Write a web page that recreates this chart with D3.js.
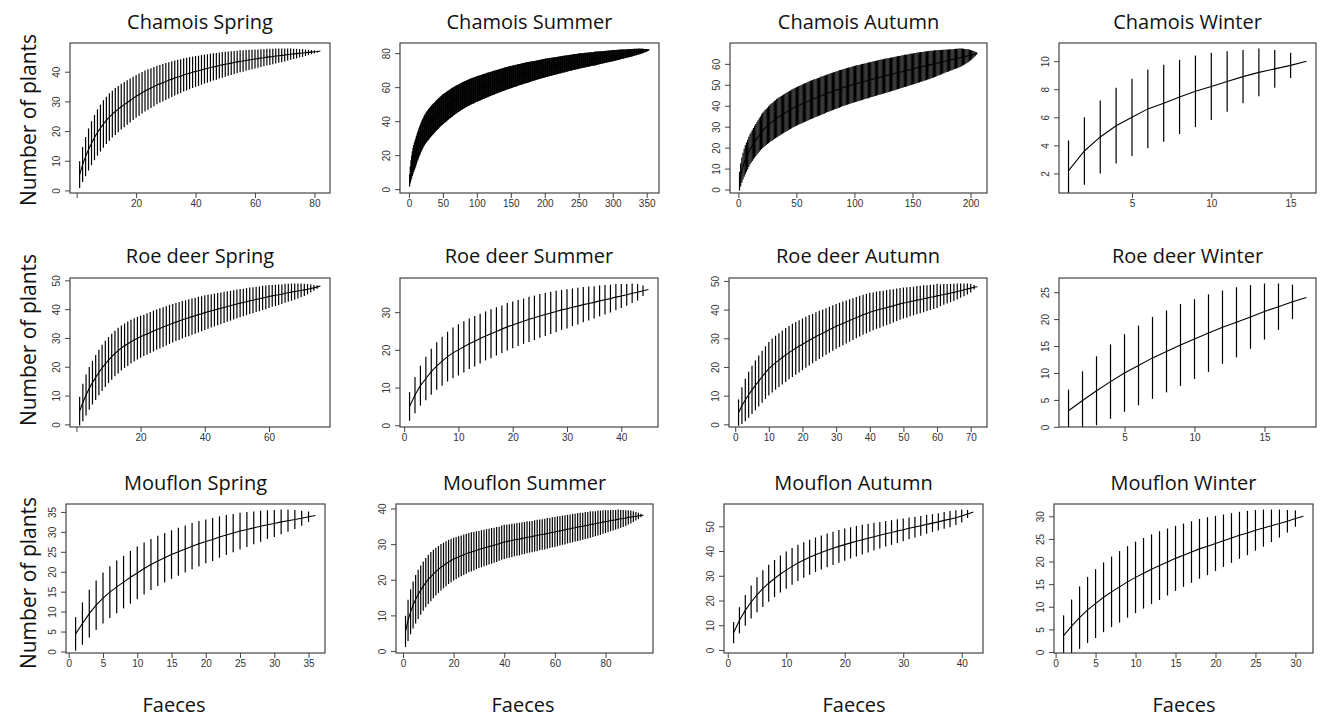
<!DOCTYPE html>
<html><head><meta charset="utf-8">
<script src="https://cdn.jsdelivr.net/npm/d3@7"></script>
<style>body{margin:0;background:#fff;} svg{display:block;}</style>
</head><body>
<svg id="chart" width="1327" height="717"></svg>
<script>
// ---------------- DATA ----------------
const panelTitles = ["Chamois Spring","Chamois Summer","Chamois Autumn","Chamois Winter",
  "Roe deer Spring","Roe deer Summer","Roe deer Autumn","Roe deer Winter",
  "Mouflon Spring","Mouflon Summer","Mouflon Autumn","Mouflon Winter"];
const yAxisTitle = "Number of plants";
const xAxisTitle = "Faeces";

const xTickValues = [[0,20,40,60,80],[0,50,100,150,200,250,300,350],[0,50,100,150,200],[5,10,15],
  [0,20,40,60],[0,10,20,30,40],[0,10,20,30,40,50,60,70],[5,10,15],
  [0,5,10,15,20,25,30,35],[0,20,40,60,80],[0,10,20,30,40],[0,5,10,15,20,25,30]];
const xTickLabels = [["","20","40","60","80"],["0","50","100","150","200","250","300","350"],["0","50","100","150","200"],["5","10","15"],
  ["","20","40","60"],["0","10","20","30","40"],["0","10","20","30","40","50","60","70"],["5","10","15"],
  ["0","5","10","15","20","25","30","35"],["0","20","40","60","80"],["0","10","20","30","40"],["0","5","10","15","20","25","30"]];
const yTickValues = [[0,10,20,30,40],[0,20,40,60,80],[0,10,20,30,40,50,60],[2,4,6,8,10],
  [0,10,20,30,40,50],[0,10,20,30],[0,10,20,30,40,50],[0,5,10,15,20,25],
  [0,5,10,15,20,25,30,35],[0,10,20,30,40],[0,10,20,30,40,50],[0,5,10,15,20,25,30]];

// mean number of plants per number of faeces (x = 1..N) and CI half-width
const meanChamoisSpring = [5.3,8.7,11.4,13.8,15.9,17.8,19.5,21.0,22.4,23.6,
 24.7,25.7,26.6,27.4,28.2,28.9,29.6,30.3,31.0,31.7,
 32.3,32.9,33.5,34.0,34.5,35.0,35.5,35.9,36.3,36.7,
 37.1,37.5,37.9,38.2,38.5,38.9,39.2,39.5,39.8,40.1,
 40.3,40.6,40.9,41.1,41.4,41.6,41.8,42.1,42.3,42.5,
 42.7,42.9,43.1,43.3,43.5,43.6,43.8,44.0,44.1,44.3,
 44.4,44.6,44.7,44.9,45.0,45.1,45.3,45.4,45.5,45.6,
 45.8,45.9,46.0,46.1,46.2,46.3,46.4,46.5,46.6,46.7,
 46.8,47.0];
const ciChamoisSpring = [4.5,5.9,6.6,7.1,7.4,7.6,7.8,7.9,8.0,8.0,
 8.0,7.9,7.9,7.8,7.7,7.6,7.5,7.4,7.3,7.2,
 7.1,7.0,6.9,6.8,6.7,6.6,6.5,6.4,6.3,6.2,
 6.1,6.0,5.9,5.8,5.7,5.6,5.5,5.4,5.3,5.2,
 5.1,5.0,4.9,4.8,4.7,4.6,4.5,4.4,4.3,4.2,
 4.1,4.0,3.9,3.8,3.7,3.6,3.5,3.4,3.3,3.2,
 3.1,3.0,2.9,2.8,2.7,2.6,2.5,2.4,2.3,2.2,
 2.0,1.9,1.7,1.6,1.4,1.3,1.1,0.9,0.7,0.5,
 0.3,0.0];

const meanChamoisSummer = [5.0,8.5,11.0,13.0,15.0,16.6,18.0,19.3,20.4,21.5,
 22.9,24.2,25.4,26.5,27.6,28.6,29.6,30.6,31.5,32.4,
 33.2,34.0,34.7,35.4,36.0,36.6,37.1,37.6,38.1,38.6,
 39.1,39.6,40.1,40.6,41.0,41.4,41.8,42.2,42.7,43.1,
 43.5,43.9,44.3,44.7,45.1,45.5,45.9,46.2,46.6,47.0,
 47.3,47.6,47.9,48.2,48.5,48.8,49.1,49.4,49.7,50.0,
 50.3,50.6,50.9,51.2,51.5,51.7,52.0,52.3,52.6,52.8,
 53.0,53.3,53.5,53.8,54.0,54.2,54.5,54.7,55.0,55.2,
 55.4,55.6,55.8,56.0,56.2,56.4,56.6,56.8,57.0,57.2,
 57.4,57.5,57.7,57.9,58.0,58.2,58.4,58.5,58.7,58.9,
 59.0,59.2,59.3,59.5,59.6,59.8,60.0,60.1,60.3,60.4,
 60.6,60.7,60.9,61.0,61.2,61.3,61.5,61.6,61.7,61.9,
 62.0,62.2,62.3,62.5,62.6,62.7,62.9,63.0,63.2,63.3,
 63.4,63.6,63.7,63.8,64.0,64.1,64.3,64.4,64.5,64.7,
 64.8,64.9,65.1,65.2,65.3,65.4,65.5,65.7,65.8,65.9,
 66.0,66.1,66.3,66.4,66.5,66.6,66.7,66.8,66.9,67.1,
 67.2,67.3,67.4,67.5,67.6,67.7,67.8,68.0,68.1,68.2,
 68.3,68.4,68.5,68.6,68.7,68.8,68.9,69.0,69.1,69.2,
 69.3,69.4,69.5,69.6,69.7,69.8,69.9,70.0,70.1,70.2,
 70.3,70.4,70.5,70.6,70.7,70.8,70.9,71.0,71.1,71.2,
 71.3,71.4,71.5,71.5,71.6,71.7,71.8,71.9,72.0,72.0,
 72.1,72.2,72.3,72.4,72.5,72.5,72.6,72.7,72.8,72.9,
 73.0,73.0,73.1,73.2,73.3,73.4,73.5,73.5,73.6,73.7,
 73.8,73.9,73.9,74.0,74.1,74.2,74.3,74.3,74.4,74.5,
 74.6,74.7,74.7,74.8,74.9,75.0,75.0,75.1,75.2,75.3,
 75.4,75.4,75.5,75.6,75.6,75.7,75.7,75.8,75.9,75.9,
 76.0,76.1,76.1,76.2,76.3,76.3,76.4,76.5,76.5,76.6,
 76.6,76.7,76.8,76.8,76.9,77.0,77.0,77.1,77.2,77.2,
 77.3,77.3,77.4,77.5,77.5,77.6,77.7,77.7,77.8,77.9,
 77.9,78.0,78.0,78.1,78.2,78.2,78.3,78.4,78.4,78.5,
 78.6,78.6,78.7,78.7,78.8,78.9,78.9,79.0,79.1,79.1,
 79.2,79.3,79.3,79.4,79.4,79.5,79.6,79.6,79.7,79.8,
 79.8,79.9,80.0,80.0,80.1,80.1,80.2,80.3,80.3,80.4,
 80.5,80.5,80.6,80.7,80.7,80.8,80.8,80.9,81.0,81.0,
 81.1,81.2,81.2,81.3,81.4,81.4,81.5,81.5,81.6,81.7,
 81.7,81.8,81.9,82.0];
const ciChamoisSummer = [3.5,5.0,6.0,6.8,7.3,7.7,7.9,8.1,8.2,8.3,
 8.3,8.4,8.4,8.5,8.5,8.6,8.6,8.6,8.7,8.7,
 8.7,8.8,8.8,8.8,8.9,8.9,8.9,9.0,9.0,9.0,
 9.0,9.0,9.0,9.0,9.0,9.0,8.9,8.9,8.9,8.9,
 8.9,8.9,8.9,8.9,8.8,8.8,8.8,8.8,8.8,8.8,
 8.8,8.7,8.7,8.7,8.7,8.6,8.6,8.6,8.5,8.5,
 8.5,8.4,8.4,8.4,8.3,8.3,8.3,8.2,8.2,8.2,
 8.1,8.1,8.1,8.1,8.0,8.0,8.0,8.0,7.9,7.9,
 7.9,7.9,7.8,7.8,7.8,7.8,7.7,7.7,7.7,7.7,
 7.7,7.6,7.6,7.6,7.6,7.6,7.5,7.5,7.5,7.5,
 7.5,7.5,7.4,7.4,7.4,7.4,7.3,7.3,7.3,7.3,
 7.3,7.2,7.2,7.2,7.2,7.2,7.1,7.1,7.1,7.1,
 7.1,7.0,7.0,7.0,7.0,7.0,6.9,6.9,6.9,6.9,
 6.9,6.8,6.8,6.8,6.8,6.8,6.7,6.7,6.7,6.7,
 6.7,6.7,6.7,6.6,6.6,6.6,6.6,6.6,6.6,6.6,
 6.5,6.5,6.5,6.5,6.4,6.4,6.4,6.4,6.3,6.3,
 6.3,6.3,6.2,6.2,6.2,6.2,6.2,6.1,6.1,6.1,
 6.1,6.1,6.1,6.1,6.1,6.0,6.0,6.0,5.9,5.9,
 5.9,5.8,5.8,5.8,5.7,5.7,5.7,5.7,5.6,5.6,
 5.6,5.6,5.6,5.5,5.5,5.5,5.5,5.5,5.5,5.5,
 5.5,5.4,5.4,5.4,5.4,5.3,5.3,5.3,5.3,5.3,
 5.2,5.2,5.2,5.2,5.1,5.1,5.1,5.1,5.1,5.0,
 5.0,5.0,5.0,5.0,5.0,4.9,4.9,4.9,4.9,4.9,
 4.8,4.8,4.8,4.8,4.7,4.7,4.7,4.7,4.7,4.6,
 4.6,4.6,4.6,4.6,4.6,4.5,4.5,4.5,4.5,4.5,
 4.5,4.4,4.4,4.4,4.4,4.3,4.3,4.3,4.3,4.3,
 4.2,4.2,4.2,4.2,4.1,4.1,4.1,4.1,4.1,4.0,
 4.0,4.0,4.0,4.0,4.0,3.9,3.9,3.9,3.8,3.8,
 3.8,3.7,3.7,3.7,3.6,3.6,3.6,3.5,3.5,3.5,
 3.5,3.4,3.4,3.4,3.4,3.4,3.3,3.3,3.3,3.3,
 3.3,3.2,3.2,3.1,3.1,3.1,3.0,3.0,2.9,2.9,
 2.9,2.8,2.8,2.7,2.7,2.7,2.6,2.6,2.5,2.5,
 2.5,2.4,2.4,2.4,2.4,2.3,2.3,2.2,2.2,2.1,
 2.1,2.0,2.0,1.9,1.9,1.8,1.8,1.7,1.7,1.6,
 1.5,1.4,1.4,1.3,1.2,1.1,1.0,1.0,0.9,0.8,
 0.6,0.4,0.2,0.0];

const meanChamoisAutumn = [4.0,7.0,9.3,11.2,12.8,14.2,15.5,16.7,18.0,19.2,
 20.1,21.0,21.9,22.8,23.6,24.4,25.2,26.0,26.8,27.6,
 28.2,28.8,29.4,29.9,30.4,30.9,31.4,31.9,32.3,32.7,
 33.2,33.6,34.0,34.4,34.8,35.1,35.5,35.8,36.2,36.5,
 36.8,37.2,37.5,37.8,38.1,38.5,38.8,39.1,39.4,39.6,
 39.9,40.2,40.4,40.7,40.9,41.2,41.4,41.7,41.9,42.2,
 42.4,42.7,42.9,43.1,43.4,43.6,43.8,44.0,44.2,44.4,
 44.7,44.9,45.1,45.3,45.5,45.8,46.0,46.2,46.4,46.6,
 46.8,47.0,47.2,47.4,47.6,47.8,48.0,48.2,48.4,48.6,
 48.8,49.0,49.1,49.3,49.5,49.6,49.8,50.0,50.1,50.3,
 50.5,50.6,50.8,50.9,51.1,51.2,51.4,51.5,51.7,51.8,
 52.0,52.1,52.3,52.4,52.6,52.7,52.9,53.0,53.2,53.3,
 53.5,53.6,53.8,53.9,54.0,54.2,54.3,54.5,54.6,54.7,
 54.9,55.0,55.2,55.3,55.4,55.6,55.7,55.9,56.0,56.1,
 56.3,56.4,56.6,56.7,56.8,57.0,57.1,57.3,57.4,57.5,
 57.7,57.8,57.9,58.1,58.2,58.3,58.5,58.6,58.7,58.9,
 59.0,59.1,59.3,59.4,59.5,59.7,59.8,59.9,60.1,60.2,
 60.3,60.5,60.6,60.7,60.8,61.0,61.1,61.2,61.4,61.5,
 61.6,61.8,61.9,62.0,62.1,62.3,62.4,62.5,62.6,62.8,
 62.9,63.0,63.2,63.3,63.4,63.6,63.7,63.9,64.0,64.1,
 64.3,64.4,64.6,64.7,64.9,65.0];
const ciChamoisAutumn = [4.5,5.5,6.0,6.4,6.7,6.9,7.0,7.1,7.2,7.2,
 7.3,7.4,7.5,7.6,7.7,7.8,7.9,8.0,8.1,8.3,
 8.4,8.5,8.6,8.6,8.7,8.8,8.8,8.9,9.0,9.0,
 9.1,9.1,9.2,9.2,9.2,9.2,9.2,9.2,9.2,9.2,
 9.2,9.2,9.2,9.2,9.2,9.2,9.2,9.2,9.2,9.2,
 9.2,9.2,9.2,9.2,9.2,9.2,9.2,9.2,9.2,9.2,
 9.2,9.2,9.2,9.2,9.2,9.1,9.1,9.1,9.1,9.1,
 9.1,9.1,9.1,9.1,9.0,9.0,9.0,9.0,9.0,9.0,
 9.0,9.0,8.9,8.9,8.9,8.9,8.9,8.9,8.8,8.8,
 8.8,8.8,8.8,8.8,8.8,8.7,8.7,8.7,8.7,8.7,
 8.7,8.7,8.6,8.6,8.6,8.6,8.6,8.5,8.5,8.5,
 8.5,8.5,8.5,8.4,8.4,8.4,8.4,8.4,8.4,8.3,
 8.3,8.3,8.3,8.3,8.2,8.2,8.2,8.2,8.1,8.1,
 8.1,8.0,8.0,8.0,8.0,7.9,7.9,7.9,7.8,7.8,
 7.8,7.7,7.7,7.7,7.6,7.6,7.5,7.5,7.5,7.4,
 7.4,7.4,7.3,7.3,7.2,7.2,7.1,7.1,7.0,7.0,
 6.9,6.9,6.8,6.7,6.7,6.6,6.5,6.5,6.4,6.3,
 6.2,6.1,6.0,5.9,5.8,5.7,5.6,5.5,5.4,5.4,
 5.3,5.2,5.1,5.0,4.9,4.8,4.8,4.7,4.6,4.5,
 4.4,4.3,4.1,3.9,3.7,3.5,3.3,3.1,2.8,2.5,
 2.2,1.9,1.5,1.1,0.6,0.0];

const meanChamoisWinter = [2.2,3.6,4.6,5.4,6.0,6.6,7.0,7.45,7.85,8.2,8.55,8.9,9.2,9.45,9.7,10.0];
const ciChamoisWinter = [2.15,2.4,2.6,2.7,2.75,2.8,2.75,2.65,2.55,2.4,2.15,1.9,1.7,1.35,0.9,0.0];

const meanRoeSpring = [4.6,7.6,10.2,12.5,14.5,16.3,18.0,19.6,21.0,22.3,
 23.5,24.6,25.6,26.5,27.3,28.0,28.7,29.3,29.9,30.4,
 30.9,31.4,31.9,32.4,32.9,33.3,33.8,34.2,34.7,35.1,
 35.5,35.9,36.3,36.7,37.0,37.4,37.7,38.1,38.4,38.8,
 39.1,39.4,39.7,40.0,40.3,40.6,40.9,41.2,41.5,41.8,
 42.1,42.3,42.6,42.9,43.1,43.4,43.6,43.9,44.1,44.4,
 44.6,44.8,45.0,45.2,45.5,45.7,45.9,46.1,46.3,46.5,
 46.7,46.9,47.2,47.4,47.7,48.0];
const ciRoeSpring = [5.0,6.5,7.1,7.4,7.6,7.8,7.9,8.0,8.0,8.0,
 8.0,7.9,7.9,7.8,7.7,7.7,7.6,7.5,7.4,7.3,
 7.2,7.2,7.1,7.1,7.0,7.0,6.9,6.8,6.8,6.7,
 6.6,6.6,6.5,6.4,6.4,6.3,6.2,6.2,6.1,6.0,
 5.9,5.8,5.7,5.6,5.5,5.4,5.3,5.2,5.1,5.0,
 4.9,4.8,4.7,4.6,4.5,4.4,4.3,4.2,4.1,4.0,
 3.8,3.7,3.6,3.4,3.3,3.1,3.0,2.8,2.6,2.4,
 2.1,1.8,1.4,1.0,0.6,0.0];

const meanRoeSummer = [5.0,8.0,10.5,12.4,14.2,15.7,17.0,18.2,19.2,20.0,
 20.8,21.6,22.3,23.0,23.7,24.3,24.9,25.5,26.1,26.6,
 27.1,27.6,28.1,28.5,29.0,29.4,29.8,30.2,30.6,30.9,
 31.3,31.6,32.0,32.3,32.6,33.0,33.3,33.6,34.0,34.3,
 34.6,35.0,35.3,35.7,36.0];
const ciRoeSummer = [3.8,4.8,5.3,5.8,6.1,6.3,6.5,6.6,6.7,6.8,
 6.8,6.7,6.7,6.6,6.5,6.5,6.4,6.3,6.3,6.2,
 6.1,6.0,6.0,5.9,5.8,5.7,5.6,5.5,5.3,5.2,
 5.0,4.9,4.7,4.5,4.3,4.1,3.9,3.7,3.5,3.2,
 2.9,2.6,2.2,1.4,0.0];

const meanRoeAutumn = [4.1,6.5,8.5,10.3,12.0,13.6,15.1,16.6,18.0,19.4,
 20.5,21.5,22.4,23.3,24.2,25.0,25.8,26.5,27.2,27.9,
 28.6,29.3,29.9,30.6,31.2,31.8,32.4,33.0,33.6,34.2,
 34.7,35.2,35.7,36.2,36.7,37.2,37.7,38.2,38.6,39.1,
 39.4,39.8,40.1,40.4,40.7,41.0,41.3,41.7,42.0,42.3,
 42.5,42.8,43.0,43.3,43.5,43.8,44.0,44.3,44.5,44.8,
 45.0,45.3,45.5,45.8,46.0,46.3,46.6,46.9,47.2,47.5,
 47.8,48.0];
const ciRoeAutumn = [4.6,6.4,7.4,8.0,8.4,8.7,8.9,9.1,9.2,9.3,
 9.4,9.4,9.4,9.4,9.4,9.3,9.3,9.2,9.1,9.0,
 8.9,8.8,8.6,8.5,8.4,8.2,8.1,8.0,7.9,7.8,
 7.7,7.6,7.5,7.4,7.3,7.2,7.1,7.0,6.9,6.8,
 6.6,6.5,6.4,6.2,6.1,6.0,5.8,5.7,5.5,5.4,
 5.3,5.1,5.0,4.9,4.8,4.7,4.5,4.4,4.3,4.2,
 3.8,3.6,3.4,3.2,3.0,2.8,2.5,2.2,1.9,1.5,
 0.8,0.0];

const meanRoeWinter = [3.0,4.9,6.7,8.4,10.0,11.4,12.8,14.0,15.2,16.3,17.4,18.5,19.4,20.4,21.4,22.3,23.2,24.0];
const ciRoeWinter = [3.9,5.4,6.4,6.9,7.2,7.4,7.6,7.6,7.6,7.4,7.2,6.8,6.5,5.9,5.2,4.3,3.2,0.0];

const meanMouflonSpring = [4.4,7.0,9.5,11.6,13.4,14.9,16.2,17.4,18.6,19.7,
 20.8,21.8,22.7,23.5,24.3,25.0,25.7,26.4,27.0,27.6,
 28.1,28.7,29.2,29.7,30.2,30.6,31.0,31.4,31.8,32.1,
 32.5,32.8,33.1,33.4,33.8,34.1];
const ciMouflonSpring = [4.2,5.3,6.0,6.2,6.4,6.5,6.6,6.6,6.6,6.6,
 6.5,6.4,6.3,6.2,6.1,6.0,5.9,5.8,5.7,5.5,
 5.4,5.2,5.0,4.8,4.6,4.4,4.1,3.9,3.6,3.4,
 3.1,2.8,2.4,1.9,1.3,0.0];

const meanMouflonSummer = [5.5,8.6,11.0,12.9,14.5,15.9,17.1,18.2,19.2,20.1,
 20.9,21.6,22.3,22.9,23.5,24.0,24.5,25.0,25.4,25.8,
 26.1,26.4,26.7,27.0,27.3,27.6,27.8,28.0,28.3,28.5,
 28.7,28.9,29.1,29.3,29.5,29.7,29.9,30.1,30.4,30.6,
 30.7,30.9,31.0,31.2,31.3,31.4,31.6,31.7,31.9,32.0,
 32.1,32.3,32.4,32.6,32.7,32.8,33.0,33.1,33.3,33.4,
 33.6,33.7,33.9,34.0,34.2,34.3,34.5,34.6,34.8,34.9,
 35.0,35.2,35.3,35.5,35.6,35.7,35.9,36.0,36.2,36.3,
 36.4,36.6,36.7,36.8,37.0,37.1,37.2,37.3,37.5,37.6,
 37.7,37.8,37.9,38.0,38.1];
const ciMouflonSummer = [4.4,5.8,6.3,6.6,6.8,6.9,6.9,6.9,6.9,6.9,
 6.9,6.8,6.7,6.6,6.5,6.4,6.3,6.2,6.1,6.0,
 5.9,5.8,5.7,5.7,5.6,5.5,5.5,5.4,5.3,5.2,
 5.2,5.1,5.1,5.0,5.0,4.9,4.9,4.8,4.8,4.8,
 4.7,4.7,4.7,4.6,4.6,4.6,4.5,4.5,4.5,4.4,
 4.4,4.4,4.4,4.3,4.3,4.3,4.3,4.2,4.2,4.2,
 4.2,4.1,4.1,4.1,4.0,4.0,4.0,3.9,3.9,3.9,
 3.8,3.8,3.7,3.7,3.6,3.5,3.5,3.4,3.3,3.2,
 3.1,3.0,2.9,2.8,2.7,2.5,2.4,2.2,2.0,1.8,
 1.5,1.2,0.9,0.5,0.0];

const meanMouflonAutumn = [7.0,12.0,16.0,19.4,22.3,24.8,27.0,28.9,30.7,32.3,
 33.8,35.2,36.4,37.5,38.5,39.4,40.3,41.1,41.9,42.6,
 43.3,44.0,44.6,45.2,45.8,46.4,47.0,47.5,48.1,48.6,
 49.2,49.7,50.2,50.8,51.3,51.8,52.4,52.9,53.5,54.2,
 55.0,55.8];
const ciMouflonAutumn = [4.3,5.3,6.2,6.7,7.1,7.4,7.5,7.5,7.5,7.5,
 7.4,7.3,7.2,7.1,7.0,6.9,6.8,6.7,6.6,6.5,
 6.3,6.2,6.0,5.8,5.6,5.4,5.2,5.0,4.8,4.6,
 4.4,4.2,4.0,3.8,3.6,3.5,3.4,3.3,3.0,2.6,
 1.6,0.0];

const meanMouflonWinter = [3.6,5.7,7.6,9.3,10.7,12.1,13.3,14.4,15.5,16.5,
 17.4,18.3,19.1,19.9,20.7,21.4,22.1,22.8,23.4,24.0,
 24.6,25.2,25.8,26.3,26.9,27.4,27.9,28.4,28.9,29.5,
 30.0];
const ciMouflonWinter = [4.5,5.9,6.9,7.3,7.6,7.7,7.8,7.9,7.9,7.9,
 7.8,7.7,7.6,7.4,7.2,7.0,6.8,6.6,6.4,6.1,
 5.8,5.5,5.2,4.9,4.5,4.1,3.6,3.1,2.5,1.8,
 0.0];

const panelMeans = [meanChamoisSpring, meanChamoisSummer, meanChamoisAutumn, meanChamoisWinter,
  meanRoeSpring, meanRoeSummer, meanRoeAutumn, meanRoeWinter,
  meanMouflonSpring, meanMouflonSummer, meanMouflonAutumn, meanMouflonWinter];
const panelCIs = [ciChamoisSpring, ciChamoisSummer, ciChamoisAutumn, ciChamoisWinter,
  ciRoeSpring, ciRoeSummer, ciRoeAutumn, ciRoeWinter,
  ciMouflonSpring, ciMouflonSummer, ciMouflonAutumn, ciMouflonWinter];

// ---------------- LAYOUT ----------------
const rowTop = [43, 278, 504];
const rowBottom = [193, 427, 653];
const colLeft = [[70,400,730,1059],[70,400,729,1059],[66,396,724,1054]];
const colRight = [[330,659,987,1316],[330,658,987,1316],[325,653,983,1313]];
const titleBaseline = [29, 263, 490];
const yLabelCenter = [120, 340, 583];
const xLabelCenter = [174, 523, 854, 1184];

const svg = d3.select("#chart");
const defs = svg.append("defs");

panelTitles.forEach((title, i) => {
  const r = Math.floor(i / 4), c = i % 4;
  const left = colLeft[r][c], right = colRight[r][c], top = rowTop[r], bottom = rowBottom[r];
  const mean = panelMeans[i], ci = panelCIs[i];
  const pts = mean.map((m, k) => ({x: k + 1, m: m, lo: m - ci[k], hi: m + ci[k]}));
  const n = pts.length;
  const xpad = 0.04 * (n - 1);
  const x = d3.scaleLinear().domain([1 - xpad, n + xpad]).range([left, right]);
  const ymax = d3.max(pts, d => d.hi);
  const ypad = 0.04 * (ymax - 1);
  const y = d3.scaleLinear().domain([1 - ypad, ymax + ypad]).range([bottom, top]);

  defs.append("clipPath").attr("id", "clip" + i)
    .append("rect").attr("x", left).attr("y", top).attr("width", right - left).attr("height", bottom - top);

  const g = svg.append("g");
  const plot = g.append("g").attr("clip-path", "url(#clip" + i + ")");

  plot.selectAll("line.bar").data(pts).enter().append("line")
    .attr("class", "bar")
    .attr("x1", d => x(d.x)).attr("x2", d => x(d.x))
    .attr("y1", d => y(d.lo)).attr("y2", d => y(d.hi))
    .attr("stroke", "#000").attr("stroke-width", 1.2);

  plot.append("path").datum(pts)
    .attr("d", d3.line().x(d => x(d.x)).y(d => y(d.m)))
    .attr("fill", "none").attr("stroke", "#000").attr("stroke-width", 1.1);

  // box
  g.append("rect").attr("x", left).attr("y", top).attr("width", right - left).attr("height", bottom - top)
    .attr("fill", "none").attr("stroke", "#444").attr("stroke-width", 1.2);

  // x axis
  const xa = g.append("g").attr("transform", `translate(0,${bottom})`)
    .call(d3.axisBottom(x).tickValues(xTickValues[i]).tickFormat((d, j) => xTickLabels[i][j]).tickSize(5).tickSizeOuter(0));
  xa.select(".domain").remove();
  xa.selectAll(".tick line").attr("stroke", "#444");
  xa.selectAll(".tick text").attr("y", 7).attr("dy", "0.71em")
    .attr("font-family", "'Liberation Sans', Arial, sans-serif").attr("font-size", 10).attr("fill", "#333");

  // y axis
  const ya = g.append("g").attr("transform", `translate(${left},0)`)
    .call(d3.axisLeft(y).tickValues(yTickValues[i]).tickFormat(d3.format("d")).tickSize(5).tickSizeOuter(0));
  ya.select(".domain").remove();
  ya.selectAll(".tick line").attr("stroke", "#444");
  ya.selectAll(".tick text").attr("transform", "rotate(-90)").attr("x", 0).attr("y", -10.5).attr("dy", 0)
    .attr("text-anchor", "middle")
    .attr("font-family", "'Liberation Sans', Arial, sans-serif").attr("font-size", 10).attr("fill", "#333");

  // title
  svg.append("text").attr("x", (left + right) / 2).attr("y", titleBaseline[r])
    .attr("text-anchor", "middle").attr("font-family", "'Open Sans', sans-serif")
    .attr("font-size", 20).attr("fill", "#111").text(title);
});

// y axis titles
yLabelCenter.forEach(cy => {
  svg.append("text").attr("transform", `translate(36,${cy}) rotate(-90)`)
    .attr("text-anchor", "middle").attr("font-family", "'Open Sans', sans-serif")
    .attr("font-size", 21).attr("fill", "#111").text(yAxisTitle);
});
// x axis titles
xLabelCenter.forEach(cx => {
  svg.append("text").attr("x", cx).attr("y", 712)
    .attr("text-anchor", "middle").attr("font-family", "'Open Sans', sans-serif")
    .attr("font-size", 20).attr("fill", "#111").text(xAxisTitle);
});
</script>
</body></html>
